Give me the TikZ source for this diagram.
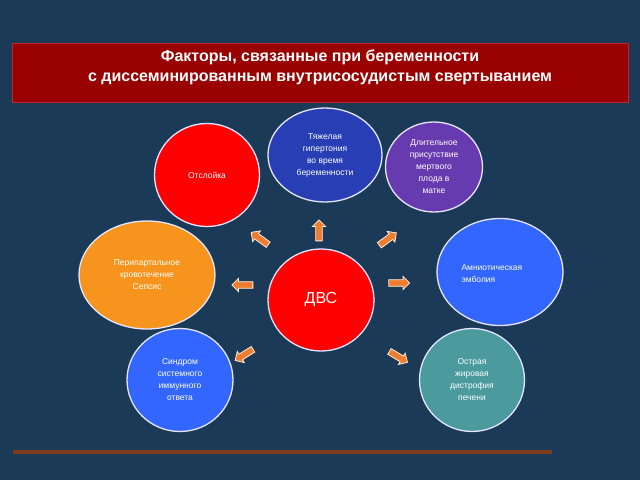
\documentclass[tikz,border=0pt]{standalone}
\usepackage{fontspec}
\setmainfont{Liberation Sans}
\usetikzlibrary{shapes.arrows,shapes.geometric}
\definecolor{bg}{RGB}{27,58,87}
\definecolor{titlered}{RGB}{153,0,0}
\definecolor{titleborder}{RGB}{190,40,40}
\definecolor{cred}{RGB}{255,0,0}
\definecolor{cnavy}{RGB}{40,62,180}
\definecolor{cpurple}{RGB}{104,58,176}
\definecolor{corange}{RGB}{247,148,29}
\definecolor{cblue}{RGB}{51,102,255}
\definecolor{cteal}{RGB}{74,154,158}
\definecolor{carrow}{RGB}{237,125,49}
\definecolor{cline}{RGB}{125,60,30}
\begin{document}
\begin{tikzpicture}[x=1pt,y=-1pt,
  blob/.style={ellipse,draw=white!90!blue,line width=1.3pt,inner sep=0pt,text=white,
    font=\fontsize{8.5}{12}\selectfont,align=center},
  flow/.style={single arrow,fill=carrow,draw=white!85!orange,line width=0.8pt,
    inner sep=2.9pt,single arrow head extend=3.3pt,single arrow head indent=0pt,
    minimum height=21pt,anchor=center}]
\useasboundingbox (0,0) rectangle (640,480);
\fill[bg] (0,0) rectangle (640,480);
% title
\node[draw=titleborder,fill=titlered,line width=0.6pt,minimum width=616pt,minimum height=59pt,
  inner sep=0pt] (title) at (320.5,72.5) {};
\node[text=white,font=\fontsize{16}{20}\selectfont\bfseries,align=center] (titletext) at (320,67.5)
  {Факторы, связанные при беременности\\с диссеминированным внутрисосудистым свертыванием};
% circles
\node[blob,fill=cred,minimum width=105pt,minimum height=103pt] (otsl) at (207,175) {Отслойка};
\node[blob,fill=cnavy,minimum width=114pt,minimum height=94pt] (hyp) at (325,155) {Тяжелая\\гипертония\\во время\\беременности};
\node[blob,fill=cpurple,minimum width=97pt,minimum height=90pt] (dead) at (434,167) {Длительное\\присутствие\\мертвого\\плода в\\матке};
\node[blob,fill=corange,minimum width=136pt,minimum height=108pt] (peri) at (147,275) {Перипартальное\\кровотечение\\Сепсис};
\node[blob,fill=cblue,minimum width=126pt,minimum height=107pt] (amn) at (500,272) {};
\node[text=white,font=\fontsize{8.5}{12}\selectfont,align=left,anchor=west] (amntext) at (458,274) {Амниотическая\\эмболия};
\node[blob,fill=cred,minimum width=106pt,minimum height=102pt,font=\fontsize{16}{18}\selectfont] (dvs) at (321,300) {ДВС};
\node[blob,fill=cblue,minimum width=106pt,minimum height=103pt] (sirs) at (180,380) {Синдром\\системного\\иммунного\\ответа};
\node[blob,fill=cteal,minimum width=105pt,minimum height=103pt] (liver) at (472,380) {Острая\\жировая\\дистрофия\\печени};
% arrows
\node[flow,rotate=90] (a1) at (319,232) {};
\node[flow,rotate=144] (a2) at (261,239.5) {};
\node[flow,rotate=36] (a3) at (386.5,240) {};
\node[flow,rotate=180] (a4) at (244,285) {};
\node[flow,rotate=0] (a5) at (397.5,283) {};
\node[flow,rotate=212] (a6) at (245.5,354) {};
\node[flow,rotate=-31] (a7) at (397,356) {};
% bottom line
\coordinate (l1) at (13,452);
\coordinate (l2) at (552,452);
\draw[cline,line width=4pt] (l1) -- (l2);
\end{tikzpicture}
\end{document}
